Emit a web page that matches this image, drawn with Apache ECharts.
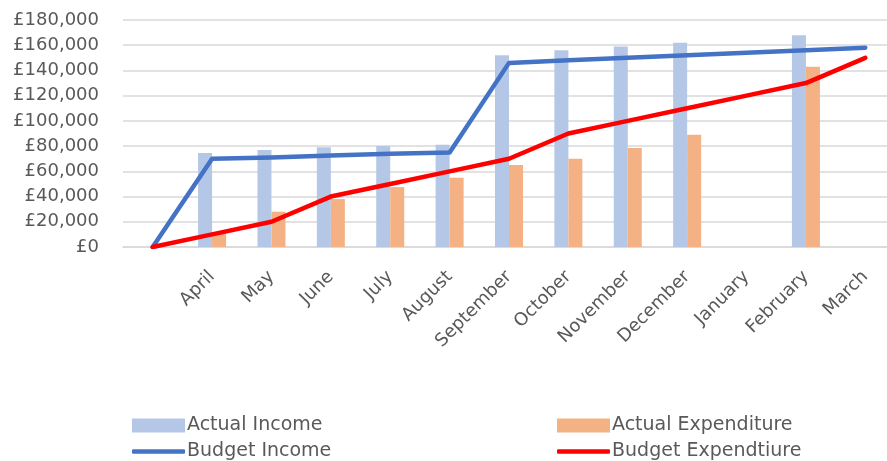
<!DOCTYPE html>
<html lang="en">
  <head>
    <meta charset="UTF-8" />
    <title>Income and Expenditure</title>
    <style>
      html, body { margin: 0; padding: 0; width: 100%; height: 100%; background: #fff; }
      #chart { width: 887px; height: 461px; }
    </style>
    <script src="https://cdn.jsdelivr.net/npm/echarts@6/dist/echarts.min.js"></script>
  </head>
  <body>
    <div id="chart"></div>
    <script>
      // first category is an empty slot so the budget lines can start at zero
      const months = ['', 'April', 'May', 'June', 'July', 'August', 'September', 'October',
        'November', 'December', 'January', 'February', 'March']
      const actualIncome = [null, 74500, 77000, 79000, 80000, 81000, 152000, 156000, 159000, 162000, null, 168000, null]
      const actualExpenditure = [null, 11000, 28000, 38000, 47500, 55000, 65000, 70000, 78500, 89000, null, 143000, null]
      const budgetIncome = [0, 70000, 71000, 72500, 74000, 75000, 146000, 148000, 150000, 152000, 154000, 156000, 158000]
      const budgetExpenditure = [0, 10000, 20000, 40000, 50000, 60000, 70000, 90000, 100000, 110000, 120000, 130000, 150000]

      const font = 'DejaVu Sans'
      const grey = '#595959'

      // one legend per entry so the 2x2 layout is placed exactly
      function legendItem (name, left, top, isBar) {
        return {
          left: left,
          top: top,
          itemWidth: 53,
          itemHeight: isBar ? 14 : 4.5,
          icon: isBar ? 'rect' : 'roundRect',
          itemGap: 0,
          textStyle: { color: grey, fontSize: 19, fontFamily: font, padding: [0, 0, 0, -3] },
          data: [name]
        }
      }

      const chart = echarts.init(document.getElementById('chart'))
      chart.setOption({
        animation: false,
        // plot area runs a little past the right edge, as in the original
        grid: { left: 123, width: 772, top: 20, bottom: 214, outerBoundsMode: 'none' },
        legend: [
          legendItem('Actual Income', 127, 411, true),
          legendItem('Budget Income', 127, 437, false),
          legendItem('Actual Expenditure', 552, 411, true),
          legendItem('Budget Expendtiure', 552, 437, false)
        ],
        xAxis: {
          type: 'category',
          data: months,
          axisLine: { lineStyle: { color: '#D9D9D9', width: 1.5 } },
          axisTick: { show: false },
          axisLabel: {
            interval: 0,
            rotate: 45,
            margin: 27,
            color: grey,
            fontSize: 18,
            fontFamily: font
          }
        },
        yAxis: {
          type: 'value',
          min: 0,
          max: 180000,
          interval: 20000,
          axisLine: { show: false },
          axisTick: { show: false },
          splitLine: { lineStyle: { color: '#D9D9D9', width: 1.5 } },
          axisLabel: {
            margin: 24,
            color: grey,
            fontSize: 18,
            fontFamily: font,
            formatter: v => '£' + v.toLocaleString('en-GB')
          }
        },
        series: [
          {
            name: 'Actual Income',
            type: 'bar',
            data: actualIncome,
            barWidth: 14,
            barGap: '0%',
            itemStyle: { color: '#B4C7E7' }
          },
          {
            name: 'Actual Expenditure',
            type: 'bar',
            data: actualExpenditure,
            barWidth: 14,
            barGap: '0%',
            itemStyle: { color: '#F4B183' }
          },
          {
            name: 'Budget Income',
            type: 'line',
            data: budgetIncome,
            symbol: 'none',
            itemStyle: { color: '#4472C4' },
            lineStyle: { color: '#4472C4', width: 4.5, cap: 'round', join: 'round' }
          },
          {
            name: 'Budget Expendtiure',
            type: 'line',
            data: budgetExpenditure,
            symbol: 'none',
            itemStyle: { color: '#FF0000' },
            lineStyle: { color: '#FF0000', width: 4.5, cap: 'round', join: 'round' }
          }
        ]
      })
    </script>
  </body>
</html>
